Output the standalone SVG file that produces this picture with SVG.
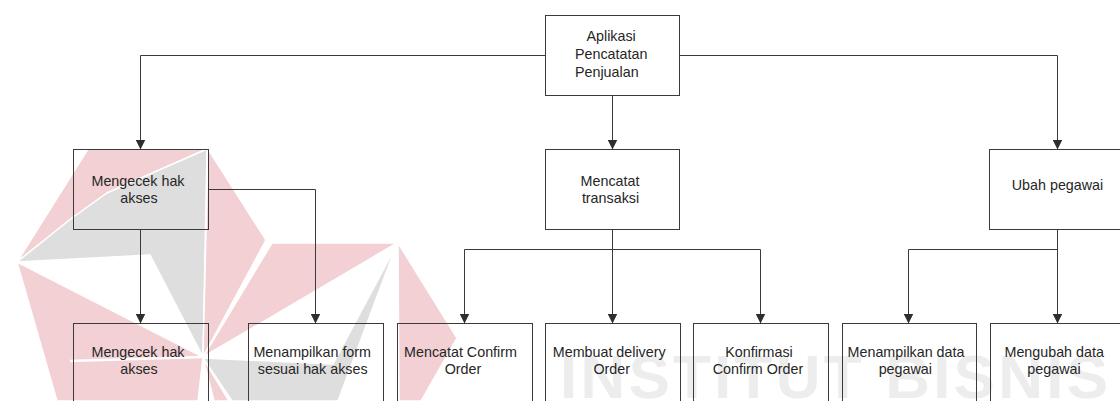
<svg xmlns="http://www.w3.org/2000/svg" width="1120" height="401" viewBox="0 0 1120 401">
<style>
.box{fill:none;stroke:#3a3a3a;stroke-width:1}
.lbl{font-family:"Liberation Sans",Arial,sans-serif;font-size:14.3px;fill:#262626;text-anchor:middle}
.lbs{font-family:"Liberation Sans",Arial,sans-serif;font-size:14.3px;fill:#262626;text-anchor:start}
.con{fill:none;stroke:#3a3a3a;stroke-width:1}
.pk{fill:#f2d0d4;stroke:#fff;stroke-width:1.5;stroke-linejoin:round}
.gy{fill:#dedede;stroke:#fff;stroke-width:1.5;stroke-linejoin:round}
.wm{font-family:"Liberation Sans",Arial,sans-serif;font-weight:bold;font-size:62px;fill:#ededed}
</style>
<defs>
<marker id="arr" viewBox="0 0 10 10" refX="10" refY="5" markerWidth="10" markerHeight="10" markerUnits="userSpaceOnUse" orient="auto">
<path d="M0,0 L10,5 L0,10 z" fill="#2e2e2e"/>
</marker>
</defs>
<rect width="1120" height="401" fill="#fff"/>
<g id="watermark">
<polygon class="pk" points="207,149 88,149 17,262 72,218 107,193"/>
<polygon class="gy" points="207,149 107,193 72,218 17,262 150,255 203,357"/>
<polygon class="pk" points="208,149 266,240 203,357"/>
<polygon class="pk" points="272,243 397,243 203,357"/>
<polygon class="gy" points="203,358 333,364 396,246 338,401 232,401"/>
<polygon class="pk" points="203,358 214,401 229,401"/>
<polygon class="pk" points="398,243 457,338 421,401 399,401"/>
<polygon class="pk" points="17,262 203,357 198,401 57,401"/>
<line x1="70" y1="361" x2="203" y2="357" stroke="#fff" stroke-width="2.5"/>
<text class="wm" x="560" y="398" textLength="548" lengthAdjust="spacing">INSTITUT BISNIS</text>
</g>
<g id="connectors">
<polyline class="con" points="545.5,55.5 140.5,55.5 140.5,149.5" marker-end="url(#arr)"/>
<polyline class="con" points="679.5,55.5 1057.5,55.5 1057.5,149.5" marker-end="url(#arr)"/>
<line class="con" x1="612.5" y1="95.5" x2="612.5" y2="149.5" marker-end="url(#arr)"/>
<line class="con" x1="140.5" y1="229.5" x2="140.5" y2="323.5" marker-end="url(#arr)"/>
<polyline class="con" points="208.5,189.5 315.5,189.5 315.5,323.5" marker-end="url(#arr)"/>
<line class="con" x1="612.5" y1="229.5" x2="612.5" y2="323.5" marker-end="url(#arr)"/>
<polyline class="con" points="612.5,249.5 464.5,249.5 464.5,323.5" marker-end="url(#arr)"/>
<polyline class="con" points="612.5,249.5 760.5,249.5 760.5,323.5" marker-end="url(#arr)"/>
<line class="con" x1="1057.5" y1="229.5" x2="1057.5" y2="323.5" marker-end="url(#arr)"/>
<polyline class="con" points="1057.5,249.5 908.5,249.5 908.5,323.5" marker-end="url(#arr)"/>
</g>
<g id="n-root">
<rect class="box" x="545.5" y="15.5" width="134" height="80"/>
<text class="lbs" x="586.5" y="40.5">Aplikasi</text>
<text class="lbs" x="575" y="58.5">Pencatatan</text>
<text class="lbs" x="575" y="76.5">Penjualan</text>
</g>
<g id="n-cek">
<rect class="box" x="73.5" y="149.5" width="135" height="80"/>
<text class="lbl" x="138" y="185.5">Mengecek hak</text>
<text class="lbl" x="139" y="203">akses</text>
</g>
<g id="n-catat">
<rect class="box" x="545.5" y="149.5" width="134" height="80"/>
<text class="lbl" x="610" y="185.5">Mencatat</text>
<text class="lbl" x="610.5" y="203">transaksi</text>
</g>
<g id="n-ubah">
<rect class="box" x="989.5" y="149.5" width="135" height="80"/>
<text class="lbl" x="1057.5" y="189.5">Ubah pegawai</text>
</g>
<g id="n-cek2">
<rect class="box" x="73.5" y="323.5" width="135" height="80"/>
<text class="lbl" x="138" y="356.5">Mengecek hak</text>
<text class="lbl" x="139" y="374">akses</text>
</g>
<g id="n-form">
<rect class="box" x="248.5" y="323.5" width="135" height="80"/>
<text class="lbl" x="312.2" y="356.5">Menampilkan form</text>
<text class="lbl" x="312.7" y="374">sesuai hak akses</text>
</g>
<g id="n-confirm">
<rect class="box" x="397.5" y="323.5" width="135" height="80"/>
<text class="lbl" x="460.5" y="356.5">Mencatat Confirm</text>
<text class="lbl" x="463" y="374">Order</text>
</g>
<g id="n-delivery">
<rect class="box" x="545.5" y="323.5" width="135" height="80"/>
<text class="lbl" x="609.2" y="356.5">Membuat delivery</text>
<text class="lbl" x="611.7" y="374">Order</text>
</g>
<g id="n-konfirmasi">
<rect class="box" x="693.5" y="323.5" width="135" height="80"/>
<text class="lbl" x="759" y="356.5">Konfirmasi</text>
<text class="lbl" x="758" y="374">Confirm Order</text>
</g>
<g id="n-tampil">
<rect class="box" x="842.5" y="323.5" width="134" height="80"/>
<text class="lbl" x="906" y="356.5">Menampilkan data</text>
<text class="lbl" x="905.3" y="374">pegawai</text>
</g>
<g id="n-ubahdata">
<rect class="box" x="990.5" y="323.5" width="135" height="80"/>
<text class="lbl" x="1054.2" y="356.5">Mengubah data</text>
<text class="lbl" x="1054" y="374">pegawai</text>
</g>
</svg>
